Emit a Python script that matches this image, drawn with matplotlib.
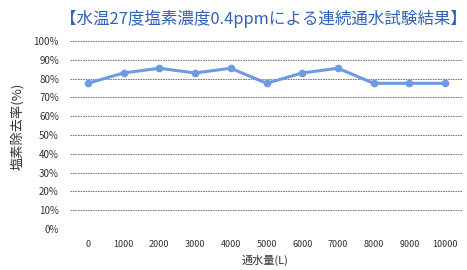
import matplotlib.pyplot as plt

plt.rcParams['font.family'] = ['Noto Sans CJK JP', 'DejaVu Sans']

volumes = ['0', '1000', '2000', '3000', '4000', '5000', '6000', '7000', '8000', '9000', '10000']
removal = [77.5, 83, 85.5, 83, 85.5, 77.5, 83, 85.5, 77.5, 77.5, 77.5]
yticks = [0, 10, 20, 30, 40, 50, 60, 70, 80, 90, 100]

fig = plt.figure(figsize=(4.67, 2.7), dpi=100)
ax = fig.add_axes([70 / 467, 1 - 229 / 270, 393 / 467, 188 / 270])

x = list(range(len(volumes)))
ax.plot(x, removal, color='#6c9be3', linewidth=2.2, marker='o', markersize=4.5, zorder=3)

ax.set_xlim(-0.5, len(volumes) - 0.5)
ax.set_ylim(0, 100)
ax.set_yticks(yticks)
ax.set_yticklabels([f'{v}%' for v in yticks], fontsize=7, color='#333333')
ax.set_xticks(x)
ax.set_xticklabels(volumes, fontsize=6.5, color='#333333')
ax.tick_params(axis='y', length=0, pad=8)
ax.tick_params(axis='x', length=0, pad=8)

for s in ax.spines.values():
    s.set_visible(False)
ax.grid(axis='y', color='#666666', linestyle=(0, (2, 1)), linewidth=0.6)
ax.set_axisbelow(True)

fig.text(263 / 467, 1 - 19 / 270, '【水温27度塩素濃度0.4ppmによる連続通水試験結果】',
         ha='center', va='center', fontsize=11.9, color='#2f63b8')
fig.text(265 / 467, 1 - 260 / 270, '通水量(L)', ha='center', va='center', fontsize=8, color='#333333')
fig.text(17 / 467, 1 - 126 / 270, '塩素除去率(%)', ha='center', va='center', rotation=90,
         fontsize=9.5, color='#333333')

fig.savefig('out.png', dpi=100)
